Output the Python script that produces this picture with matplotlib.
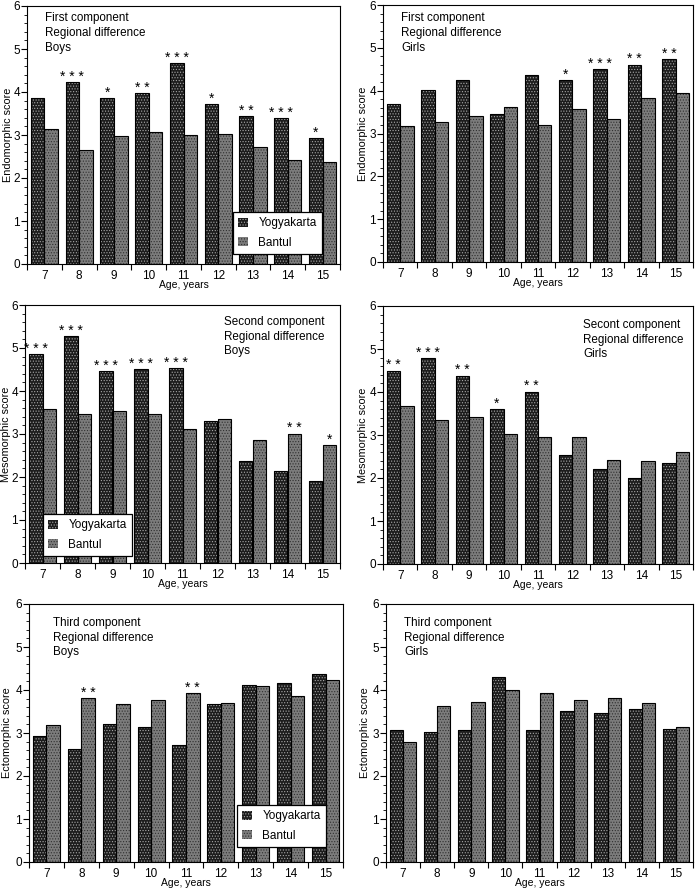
import numpy as np
import matplotlib.pyplot as plt
from matplotlib.patches import Patch
from matplotlib.ticker import MultipleLocator

plt.rcParams['font.family'] = ['Liberation Sans', 'DejaVu Sans']
plt.rcParams['hatch.linewidth'] = 0.5

ages = ['7', '8', '9', '10', '11', '12', '13', '14', '15']

# Endomorphic (first component)
endo_boys_yog = [3.87, 4.23, 3.86, 3.97, 4.67, 3.72, 3.44, 3.40, 2.94]
endo_boys_ban = [3.15, 2.64, 2.98, 3.06, 3.00, 3.03, 2.73, 2.41, 2.38]
endo_boys_sig = ['', '***', '*', '**', '***', '*', '**', '***', '*']
endo_girls_yog = [3.70, 4.01, 4.26, 3.46, 4.37, 4.24, 4.50, 4.61, 4.74]
endo_girls_ban = [3.18, 3.26, 3.42, 3.61, 3.21, 3.57, 3.35, 3.82, 3.95]
endo_girls_sig = ['', '', '', '', '', '*', '***', '**', '**']

# Mesomorphic (second component)
meso_boys_yog = [4.85, 5.28, 4.47, 4.51, 4.53, 3.30, 2.38, 2.15, 1.90]
meso_boys_ban = [3.57, 3.46, 3.54, 3.46, 3.11, 3.36, 2.87, 3.01, 2.74]
meso_boys_sig = ['***', '***', '***', '***', '***', '', '', '**', '*']
meso_girls_yog = [4.50, 4.78, 4.38, 3.60, 4.01, 2.53, 2.21, 2.01, 2.36]
meso_girls_ban = [3.67, 3.34, 3.42, 3.02, 2.95, 2.95, 2.43, 2.39, 2.60]
meso_girls_sig = ['**', '***', '**', '*', '**', '', '', '', '']

# Ectomorphic (third component)
ecto_boys_yog = [2.93, 2.63, 3.21, 3.14, 2.73, 3.67, 4.11, 4.16, 4.38]
ecto_boys_ban = [3.18, 3.81, 3.68, 3.77, 3.92, 3.70, 4.09, 3.87, 4.24]
ecto_boys_sig = ['', '**', '', '', '**', '', '', '', '']
ecto_girls_yog = [3.07, 3.02, 3.08, 4.31, 3.06, 3.51, 3.47, 3.55, 3.10]
ecto_girls_ban = [2.80, 3.62, 3.72, 4.01, 3.94, 3.77, 3.82, 3.70, 3.14]
ecto_girls_sig = ['', '', '', '', '', '', '', '', '']

YOG_FACE, YOG_DOT, YOG_HATCH = '#1c1c1c', '#a8a8a8', '......'
BAN_FACE, BAN_DOT, BAN_HATCH = '#7c7c7c', '#303030', '......'
W = 0.39
FIG_W, FIG_H = 700, 891


def draw_panel(px, yog, ban, sig, ylabel, ylabel_x, lines, text_pos, legend_pos=None):
    # px = (left, top, right, bottom) of the axes in pixels
    l, t, r, b = px
    ax = fig.add_axes([l / FIG_W, 1 - b / FIG_H, (r - l) / FIG_W, (b - t) / FIG_H])
    x = np.arange(len(ages))
    # filled bars with dot texture, then black outlines on top
    ax.bar(x - W / 2, yog, W, color=YOG_FACE, hatch=YOG_HATCH, edgecolor=YOG_DOT, linewidth=0)
    ax.bar(x + W / 2, ban, W, color=BAN_FACE, hatch=BAN_HATCH, edgecolor=BAN_DOT, linewidth=0)
    ax.bar(x - W / 2, yog, W, fill=False, edgecolor='black', linewidth=0.8)
    ax.bar(x + W / 2, ban, W, fill=False, edgecolor='black', linewidth=0.8)
    # significance stars above whichever bar is higher
    for i, s in enumerate(sig):
        if not s:
            continue
        star = ' '.join(s)
        if yog[i] >= ban[i]:
            ax.text(x[i] - W / 2, yog[i] - 0.04, star, ha='center', va='bottom', fontsize=10)
        else:
            ax.text(x[i] + W / 2, ban[i] - 0.04, star, ha='center', va='bottom', fontsize=10)
    ax.set_xlim(-0.5, len(ages) - 0.5)
    ax.set_ylim(0, 6)
    ax.yaxis.set_major_locator(MultipleLocator(1))
    ax.yaxis.set_minor_locator(MultipleLocator(0.2))
    ax.set_xticks(x)
    ax.set_xticklabels(ages)
    ax.set_xticks(np.arange(len(ages) + 1) - 0.5, minor=True)
    ax.tick_params(axis='x', which='major', length=0, labelsize=8.5, pad=4)
    ax.tick_params(axis='x', which='minor', length=4, width=0.8)
    ax.tick_params(axis='y', which='major', length=4, width=0.8, labelsize=8.5, pad=1)
    ax.tick_params(axis='y', which='minor', length=2, width=0.6)
    ax.set_xlabel('Age, years', fontsize=7.5, labelpad=-1)
    ax.set_ylabel(ylabel, fontsize=7.8)
    # label anchor is its right edge
    ax.yaxis.set_label_coords((ylabel_x - l) / (r - l), 0.5)
    for sp in ax.spines.values():
        sp.set_linewidth(0.8)
    ax.text(text_pos[0], text_pos[1], '\n'.join(lines), transform=ax.transAxes,
            ha='left', va='top', fontsize=8.4, linespacing=1.3)
    if legend_pos is not None:
        handles = [Patch(facecolor=YOG_FACE, hatch=YOG_HATCH, edgecolor=YOG_DOT, linewidth=0),
                   Patch(facecolor=BAN_FACE, hatch=BAN_HATCH, edgecolor=BAN_DOT, linewidth=0)]
        leg = ax.legend(handles, ['Yogyakarta', 'Bantul'], loc='upper left',
                        bbox_to_anchor=legend_pos, borderaxespad=0, fontsize=8.5,
                        fancybox=False, framealpha=1, edgecolor='black',
                        handlelength=0.8, handleheight=0.8, labelspacing=0.65,
                        borderpad=0.45, handletextpad=0.9)
        leg.get_frame().set_linewidth(0.9)
    return ax


fig = plt.figure(figsize=(FIG_W / 100, FIG_H / 100), dpi=100)

draw_panel((27, 6, 340, 264), endo_boys_yog, endo_boys_ban, endo_boys_sig,
           'Endomorphic score', 13, ['First component', 'Regional difference', 'Boys'],
           (0.058, 0.975), legend_pos=(0.658, 0.202))
draw_panel((383, 5, 693, 262), endo_girls_yog, endo_girls_ban, endo_girls_sig,
           'Endomorphic score', 368, ['First component', 'Regional difference', 'Girls'],
           (0.058, 0.972))
draw_panel((25, 305, 340, 563), meso_boys_yog, meso_boys_ban, meso_boys_sig,
           'Mesomorphic score', 11, ['Second component', 'Regional difference', 'Boys'],
           (0.632, 0.958), legend_pos=(0.057, 0.19))
draw_panel((383, 306, 693, 564), meso_girls_yog, meso_girls_ban, meso_girls_sig,
           'Mesomorphic score', 368, ['Secont component', 'Regional difference', 'Girls'],
           (0.645, 0.95))
draw_panel((29, 604, 343, 862), ecto_boys_yog, ecto_boys_ban, ecto_boys_sig,
           'Ectomorphic score', 12, ['Third component', 'Regional difference', 'Boys'],
           (0.077, 0.95), legend_pos=(0.662, 0.221))
draw_panel((386, 604, 693, 862), ecto_girls_yog, ecto_girls_ban, ecto_girls_sig,
           'Ectomorphic score', 370, ['Third component', 'Regional difference', 'Girls'],
           (0.059, 0.95))

fig.savefig('out.png', dpi=100)
